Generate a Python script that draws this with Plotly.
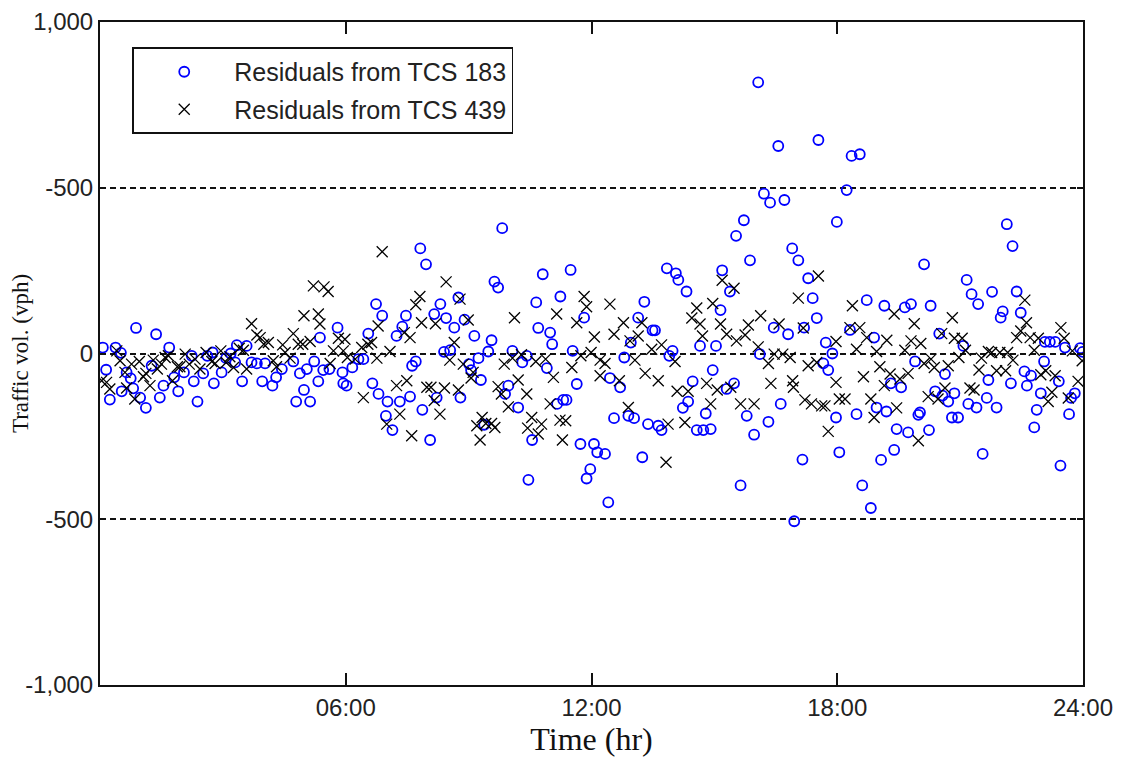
import plotly.graph_objects as go

# ---- data: residuals (vph) vs time of day (hours) ----
tcs183_hour = [0.07,0.15,0.24,0.38,0.51,0.53,0.65,0.75,0.81,0.88,0.98,1.12,1.26,1.37,1.46,1.55,1.69,1.81,1.91,2.05,
 2.24,2.29,2.38,2.52,2.62,2.75,2.78,2.97,3.08,3.19,3.30,3.34,3.47,3.58,3.70,3.83,3.96,4.03,4.21,4.30,
 4.44,4.72,4.79,4.88,4.98,5.05,5.13,5.23,5.33,5.37,5.45,5.60,5.80,5.92,5.94,6.02,6.16,6.31,6.43,6.55,
 6.65,6.74,6.80,6.89,6.98,7.02,7.14,7.24,7.32,7.38,7.47,7.57,7.62,7.71,7.82,7.87,7.96,8.06,8.16,8.22,
 8.31,8.40,8.45,8.55,8.65,8.75,8.80,8.90,9.01,9.06,9.14,9.24,9.30,9.38,9.48,9.56,9.63,9.72,9.82,9.89,
 9.97,10.07,10.21,10.31,10.42,10.46,10.55,10.65,10.70,10.81,10.91,10.99,11.04,11.16,11.24,11.31,11.39,11.49,11.54,11.64,
 11.73,11.82,11.88,11.97,12.06,12.14,12.33,12.41,12.45,12.55,12.70,12.80,12.90,12.96,13.04,13.14,13.24,13.29,13.38,13.49,
 13.55,13.63,13.71,13.84,13.90,13.98,14.06,14.12,14.23,14.32,14.36,14.47,14.57,14.65,14.73,14.79,14.91,14.96,15.04,15.15,
 15.19,15.30,15.38,15.48,15.53,15.64,15.72,15.79,15.87,15.97,16.07,16.11,16.21,16.32,16.36,16.45,16.56,16.62,16.71,16.80,
 16.90,16.95,17.05,17.15,17.19,17.29,17.40,17.50,17.54,17.66,17.72,17.78,17.88,17.97,17.99,18.05,18.23,18.31,18.35,18.47,
 18.55,18.61,18.72,18.82,18.90,18.96,19.07,19.15,19.20,19.31,19.39,19.45,19.56,19.65,19.73,19.80,19.90,19.98,20.02,20.12,
 20.24,20.28,20.39,20.49,20.57,20.63,20.71,20.80,20.86,20.95,21.08,21.16,21.20,21.28,21.40,21.44,21.55,21.65,21.69,21.78,
 21.89,21.99,22.04,22.14,22.24,22.28,22.38,22.48,22.57,22.63,22.73,22.81,22.87,22.97,23.05,23.07,23.19,23.32,23.41,23.45,
 23.56,23.66,23.71,23.80,23.93,23.99]
tcs183_resid = [18,-49,-139,18,2,-114,-57,-75,-105,77,-133,-164,-37,58,-133,-97,18,-72,-114,-57,
 -7,-84,-145,-60,-7,3,-90,-57,-14,0,-27,25,-84,23,-27,-30,-84,-30,-97,-72,
 -47,-24,-145,-60,-110,-47,-145,-24,-84,48,-50,-47,78,-57,-90,-97,-42,-17,-17,60,
 -90,149,-122,114,-188,-145,-231,53,-145,81,114,-130,-37,-24,317,-170,269,-261,119,-133,
 149,5,107,10,78,169,-133,102,-32,-50,53,-14,-80,-215,6,40,217,199,378,-122,
 -97,8,-163,-27,-7,-381,-261,154,77,239,-44,63,28,-152,172,-140,-140,252,8,-92,
 -273,108,-377,-349,-273,-298,-303,-449,-74,-195,-102,-12,-188,33,-195,108,-313,156,-213,70,
 70,-218,-231,257,-7,8,242,222,-164,187,-145,-84,-231,23,-231,-181,-228,-50,23,131,
 251,-107,187,-90,355,-398,402,-188,281,-245,818,-2,482,-206,455,78,626,-152,463,58,
 317,-506,281,-320,78,227,167,107,644,-30,33,-50,0,-193,397,-298,493,71,596,-183,
 601,-398,161,-466,48,-163,-321,144,-175,-90,-291,-228,-102,139,-238,149,-24,-185,-178,269,
 -231,144,-114,60,-127,-62,-145,-193,-120,-193,23,222,-152,179,-163,149,-303,-134,-80,186,
 -163,108,127,390,-90,324,187,123,-54,-97,-67,-223,-170,-120,-24,35,35,35,-84,-338,
 18,-183,-134,-120,16,5]

tcs439_hour = [0.04,0.16,0.24,0.41,0.49,0.61,0.65,0.77,0.85,0.96,1.06,1.12,1.22,1.30,1.40,1.50,1.59,1.67,1.77,1.89,
 1.95,2.08,2.18,2.32,2.44,2.59,2.73,2.81,2.95,3.08,3.17,3.26,3.40,3.50,3.58,3.70,3.83,3.91,4.00,4.11,
 4.23,4.31,4.46,4.52,4.64,4.72,4.84,4.95,4.98,5.13,5.21,5.33,5.37,5.47,5.57,5.62,5.70,5.82,5.94,5.98,
 6.04,6.23,6.39,6.43,6.54,6.63,6.76,6.79,6.89,7.00,7.08,7.24,7.32,7.43,7.49,7.57,7.61,7.71,7.81,7.85,
 7.98,8.08,8.16,8.19,8.30,8.41,8.45,8.54,8.65,8.75,8.79,8.87,8.99,9.06,9.11,9.20,9.28,9.33,9.42,9.56,
 9.64,9.72,9.80,9.87,9.97,10.07,10.12,10.21,10.29,10.42,10.44,10.54,10.64,10.70,10.78,10.88,10.99,11.07,11.15,11.23,
 11.29,11.37,11.52,11.64,11.74,11.82,11.88,11.99,12.07,12.21,12.33,12.21,12.45,12.55,12.68,12.78,12.90,12.94,13.06,13.14,
 13.23,13.31,13.47,13.63,13.71,13.82,13.87,14.04,14.09,14.28,14.36,14.45,14.57,14.65,14.71,14.81,14.91,14.96,15.07,15.15,
 15.19,15.30,15.40,15.48,15.54,15.64,15.75,15.83,15.97,16.07,16.13,16.32,16.38,16.46,16.58,16.67,16.85,16.91,16.93,17.05,
 17.17,17.21,17.29,17.37,17.50,17.54,17.62,17.70,17.78,17.97,17.97,18.05,18.19,18.31,18.37,18.47,18.55,18.64,18.72,18.82,
 18.90,18.96,19.04,19.15,19.21,19.29,19.39,19.45,19.53,19.65,19.73,19.80,19.88,19.98,20.04,20.12,20.22,20.29,20.37,20.46,
 20.55,20.63,20.71,20.81,20.86,20.97,21.05,21.13,21.24,21.34,21.46,21.52,21.69,21.77,21.89,21.97,22.11,22.16,22.29,22.38,
 22.48,22.58,22.62,22.71,22.81,22.91,22.97,23.09,23.15,23.24,23.32,23.46,23.54,23.64,23.74,23.88,23.98]
tcs439_resid = [-82,-87,-107,8,-22,-57,-104,-32,-137,-24,-70,-60,-97,-20,-47,-32,-12,-7,-82,-40,
 -40,-2,-32,-17,-47,3,-24,-30,8,-27,-10,-42,16,10,-47,90,56,48,28,33,
 -22,-40,26,3,-14,60,28,28,114,36,204,119,89,201,187,-30,8,46,8,43,
 -12,-17,18,-133,28,33,-14,83,307,-213,6,-97,-183,63,-82,48,-248,147,172,93,
 -102,-102,-142,90,-183,-104,216,-20,33,-110,164,-32,101,-74,-57,-218,-261,-193,-211,-211,
 -223,-100,-122,-32,-161,-14,108,-80,-4,-122,-225,-193,-24,-243,-213,-17,-152,-72,119,-201,
 -261,-203,-42,93,-7,172,141,3,50,-20,-30,-67,149,58,-82,93,-163,38,-20,53,
 93,-60,13,-82,26,-328,-213,-24,-114,-208,-114,107,137,89,53,-90,-152,151,-110,89,
 221,58,-102,197,38,-152,56,86,-152,20,114,-30,-90,-2,89,-2,-12,-82,-102,167,
 77,-140,-37,-152,-27,234,-158,-158,-235,36,-87,-137,-137,78,144,13,78,-70,48,-137,
 -193,6,-40,-97,40,-62,119,-164,-77,10,-60,38,90,-263,30,-30,-130,-17,-42,-137,
 60,-104,-37,108,46,-12,46,10,-104,-110,-50,-14,6,3,-52,3,-52,3,-20,48,
 68,161,93,48,10,46,-64,-52,-145,-117,-67,78,46,-134,8,-84,-22]

y_tick_vals = [-1000, -500, 0, 500, 1000]
y_tick_text = ["-1,000", "-500", "0", "-500", "1,000"]
x_tick_vals = [6, 12, 18, 24]
x_tick_text = ["06:00", "12:00", "18:00", "24:00"]
series_names = ["Residuals from TCS 183", "Residuals from TCS 439"]

fig = go.Figure()
fig.add_trace(go.Scatter(
    x=tcs183_hour, y=tcs183_resid, mode="markers", name=series_names[0],
    legendgroup="a",
    marker=dict(symbol="circle-open", size=10, color="#0000ff", line=dict(width=1.8, color="#0000ff")),
))
fig.add_trace(go.Scatter(
    x=tcs439_hour, y=tcs439_resid, mode="markers", name=series_names[1],
    legendgroup="b",
    marker=dict(symbol="x-thin-open", size=11, color="#000000", line=dict(width=1.3, color="#000000")),
))

tick_font = dict(family="Liberation Sans, Arial, sans-serif", size=24, color="#222222")

fig.update_layout(
    width=1123, height=762,
    margin=dict(l=92, r=48, t=14, b=85, autoexpand=False),
    paper_bgcolor="white", plot_bgcolor="white",
    showlegend=True,
    legend=dict(
        x=0.033, y=0.962, xanchor="left", yanchor="top",
        bgcolor="white", bordercolor="#111111", borderwidth=1.8,
        font=dict(family="Liberation Sans, Arial, sans-serif", size=25, color="#222222"),
        tracegroupgap=2, itemwidth=90,
    ),
    xaxis=dict(
        range=[0, 24], tickmode="array", tickvals=x_tick_vals, ticktext=x_tick_text,
        ticks="inside", ticklen=12, tickwidth=1.5, tickcolor="#111111",
        showline=True, linecolor="#111111", linewidth=2, mirror="ticks",
        showgrid=False, zeroline=False, tickfont=tick_font, ticklabeloverflow="allow",
        title=dict(text="Time (hr)",
                   font=dict(family="Liberation Serif, Times New Roman, serif", size=32, color="#111111"),
                   standoff=4),
        automargin=False,
    ),
    yaxis=dict(
        range=[-1000, 1000], tickmode="array", tickvals=y_tick_vals, ticktext=y_tick_text,
        ticks="inside", ticklen=6, tickwidth=1.5, tickcolor="#111111",
        showline=True, linecolor="#111111", linewidth=2, mirror="ticks",
        showgrid=True, gridcolor="#111111", gridwidth=1.6, griddash="6px,4px",
        zeroline=False, tickfont=tick_font, ticklabeloverflow="allow",
        title=dict(text="Traffic vol. (vph)",
                   font=dict(family="Liberation Serif, Times New Roman, serif", size=23, color="#111111"),
                   standoff=6),
        automargin=False,
    ),
)

fig.write_html("out.html")
